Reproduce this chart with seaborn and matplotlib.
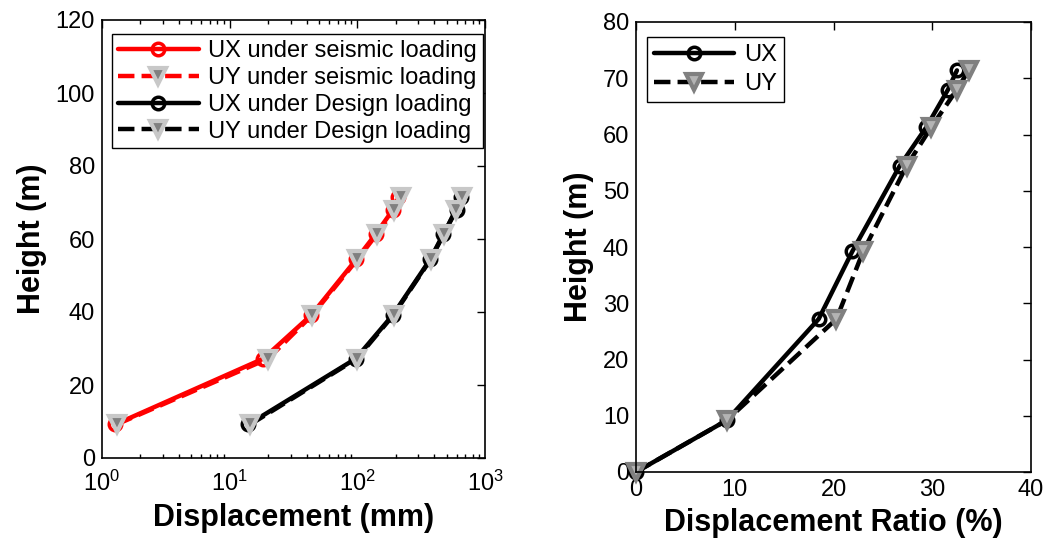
import matplotlib
matplotlib.use("Agg")
import matplotlib.pyplot as plt
import seaborn as sns
import pandas as pd
from matplotlib.ticker import LogLocator, MultipleLocator

# ---- data ----
heights = [9.2, 27.2, 39.2, 54.4, 61.3, 68.0, 71.4]
ux_seismic = [1.27, 18.3, 43.7, 98, 139, 190, 210]
uy_seismic = [1.3, 20.0, 44.5, 100, 142, 195, 220]
ux_design = [14, 97, 190, 372, 471, 600, 648]
uy_design = [14.5, 99, 192, 375, 475, 590, 665]

ratio_heights = [0, 9.2, 27.2, 39.2, 54.4, 61.3, 68.0, 71.4]
ux_ratio = [0, 9.2, 18.5, 21.9, 26.7, 29.4, 31.6, 32.5]
uy_ratio = [0, 9.2, 20.3, 23.0, 27.4, 29.9, 32.5, 33.7]

left_labels = ["UX under seismic loading", "UY under seismic loading",
               "UX under Design loading", "UY under Design loading"]
right_labels = ["UX", "UY"]

sns.set_style("white")
plt.rcParams['font.family'] = ['Liberation Sans', 'DejaVu Sans']
plt.rcParams['mathtext.fontset'] = 'custom'
plt.rcParams['mathtext.rm'] = 'Liberation Sans'
plt.rcParams['mathtext.it'] = 'Liberation Sans'
for k in ('text.color', 'axes.labelcolor', 'xtick.color', 'ytick.color'):
    plt.rcParams[k] = 'black'

fig = plt.figure(figsize=(10.47, 5.39), dpi=100)
W, H = 1047, 539
axL = fig.add_axes([102 / W, (H - 458) / H, (485 - 102) / W, (458 - 20) / H])
axR = fig.add_axes([636 / W, (H - 472) / H, (1031 - 636) / W, (472 - 22) / H])

lw = 3.2
circ = dict(marker='o', markersize=9, markerfacecolor='none', markeredgewidth=2.5)
tri_l = dict(marker='v', markersize=12, markerfacecolor='#808080',
             markeredgecolor='#c8c8c8', markeredgewidth=3)
tri_r = dict(marker='v', markersize=12, markerfacecolor='#b4b4b4',
             markeredgecolor='#808080', markeredgewidth=3)

def draw(ax, x, y, label, color, ls, mk):
    df = pd.DataFrame({'x': x, 'y': y})
    sns.lineplot(data=df, x='x', y='y', ax=ax, sort=False, estimator=None,
                 color=color, linestyle=ls, linewidth=lw, label=label, **mk)

draw(axL, ux_seismic, heights, left_labels[0], 'red', '-', dict(circ, markeredgecolor='red'))
draw(axL, uy_seismic, heights, left_labels[1], 'red', '--', tri_l)
draw(axL, ux_design, heights, left_labels[2], 'black', '-', dict(circ, markeredgecolor='black'))
draw(axL, uy_design, heights, left_labels[3], 'black', '--', tri_l)

draw(axR, ux_ratio, ratio_heights, right_labels[0], 'black', '-', dict(circ, markeredgecolor='black'))
draw(axR, uy_ratio, ratio_heights, right_labels[1], 'black', '--', tri_r)

for line in axL.get_lines() + axR.get_lines():
    line.set_clip_on(False)

axL.set_xscale('log')
axL.set_xlim(1, 1000)
axL.set_ylim(0, 120)
axL.yaxis.set_major_locator(MultipleLocator(20))
axL.xaxis.set_major_locator(LogLocator(base=10, numticks=10))
axL.xaxis.set_minor_locator(LogLocator(base=10, subs=range(2, 10), numticks=30))

axR.set_xlim(0, 40)
axR.set_ylim(0, 80)
axR.xaxis.set_major_locator(MultipleLocator(10))
axR.yaxis.set_major_locator(MultipleLocator(10))

for ax in (axL, axR):
    for sp in ax.spines.values():
        sp.set_visible(True)
        sp.set_color('black')
        sp.set_linewidth(1.2)
    ax.tick_params(which='both', direction='in', top=True, right=True,
                   labelsize=17, colors='black', pad=5)
    ax.tick_params(which='major', length=6, width=1)
    ax.tick_params(which='minor', length=3, width=1, bottom=True, top=True)
    ax.set_ylabel('Height (m)', fontsize=22, fontweight='bold', labelpad=6,
                  color='black')

axL.tick_params(axis='x', which='both', pad=9)
axL.set_xlabel('Displacement (mm)', fontsize=22, fontweight='bold', labelpad=5,
               color='black')
axR.set_xlabel('Displacement Ratio (%)', fontsize=22, fontweight='bold', labelpad=5,
               color='black')

legL = axL.legend(loc='upper left', bbox_to_anchor=(0.027, 0.967), fontsize=17,
                  frameon=True, fancybox=False, edgecolor='black', framealpha=1,
                  handlelength=3.4, borderpad=0.25, labelspacing=0.2,
                  handletextpad=0.4, borderaxespad=0, labelcolor='black')
legR = axR.legend(loc='upper left', bbox_to_anchor=(0.028, 0.967), fontsize=17,
                  frameon=True, fancybox=False, edgecolor='black', framealpha=1,
                  handlelength=3.4, borderpad=0.3, labelspacing=0.3,
                  handletextpad=0.4, borderaxespad=0, labelcolor='black')
for leg in (legL, legR):
    leg.get_frame().set_linewidth(1)

fig.savefig('out.png', dpi=100)
